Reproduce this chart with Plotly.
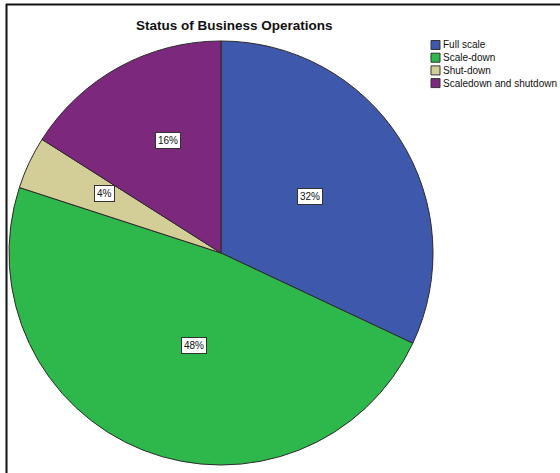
import math
import plotly.graph_objects as go

# Share of businesses by operating status (percent)
categories = ["Full scale", "Scale-down", "Shut-down", "Scaledown and shutdown"]
shares = [32, 48, 4, 16]
colors = ["#3E58AC", "#2EB84B", "#D3CE97", "#7C287D"]

W, H = 560, 473
# pie placement in pixels
cx, cy, r = 221, 253, 212
# distance of each value box from the centre, as a fraction of the radius
label_radius = [0.50, 0.51, 0.66, 0.65]

fig = go.Figure()
fig.add_trace(go.Pie(
    labels=categories,
    values=shares,
    sort=False,
    direction="clockwise",
    rotation=0,
    marker=dict(colors=colors, line=dict(color="#2a2a2a", width=1)),
    textinfo="none",
    hoverinfo="label+percent",
    showlegend=False,
    domain=dict(x=[(cx - r) / W, (cx + r) / W],
                y=[1 - (cy + r) / H, 1 - (cy - r) / H]),
))

annotations = []
shapes = []

# value boxes placed at each slice's mid-angle
total = sum(shares)
start = 0.0
for v, frac in zip(shares, label_radius):
    mid = (start + v / 2) / total * 2 * math.pi
    start += v
    px = cx + r * frac * math.sin(mid)
    py = cy - r * frac * math.cos(mid)
    annotations.append(dict(
        x=px / W, y=1 - py / H, xref="paper", yref="paper",
        text=f"{round(v / total * 100)}%", showarrow=False,
        font=dict(family="Liberation Sans, Arial, sans-serif", size=10, color="#111"),
        bgcolor="white", bordercolor="#333", borderwidth=1, borderpad=2,
    ))

# title
annotations.append(dict(
    x=234 / W, y=1 - 26 / H, xref="paper", yref="paper",
    text="<b>Status of Business Operations</b>", showarrow=False,
    font=dict(family="Liberation Sans, Arial, sans-serif", size=13.5, color="#111"),
    xanchor="center", yanchor="middle",
))

# legend
lx, ly0, step, sw = 431, 45, 12.7, 9
for i, (name, col) in enumerate(zip(categories, colors)):
    yc = ly0 + i * step
    shapes.append(dict(
        type="rect", xref="paper", yref="paper",
        x0=lx / W, x1=(lx + sw) / W,
        y0=1 - (yc + sw / 2) / H, y1=1 - (yc - sw / 2) / H,
        fillcolor=col, line=dict(color="#333", width=1),
    ))
    annotations.append(dict(
        x=(lx + sw + 1) / W, y=1 - yc / H, xref="paper", yref="paper",
        text=name, showarrow=False, xanchor="left", yanchor="middle",
        font=dict(family="Liberation Sans, Arial, sans-serif", size=10, color="#111"),
    ))

# frame (top and left edges)
shapes.append(dict(type="line", xref="paper", yref="paper",
                   x0=6 / W, x1=1.0, y0=1 - 4.5 / H, y1=1 - 4.5 / H,
                   line=dict(color="#111", width=2)))
shapes.append(dict(type="line", xref="paper", yref="paper",
                   x0=6.5 / W, x1=6.5 / W, y0=0, y1=1 - 4 / H,
                   line=dict(color="#111", width=2)))

fig.update_layout(
    width=W, height=H,
    margin=dict(l=0, r=0, t=0, b=0),
    paper_bgcolor="white", plot_bgcolor="white",
    annotations=annotations, shapes=shapes,
)

fig.write_html("out.html")
